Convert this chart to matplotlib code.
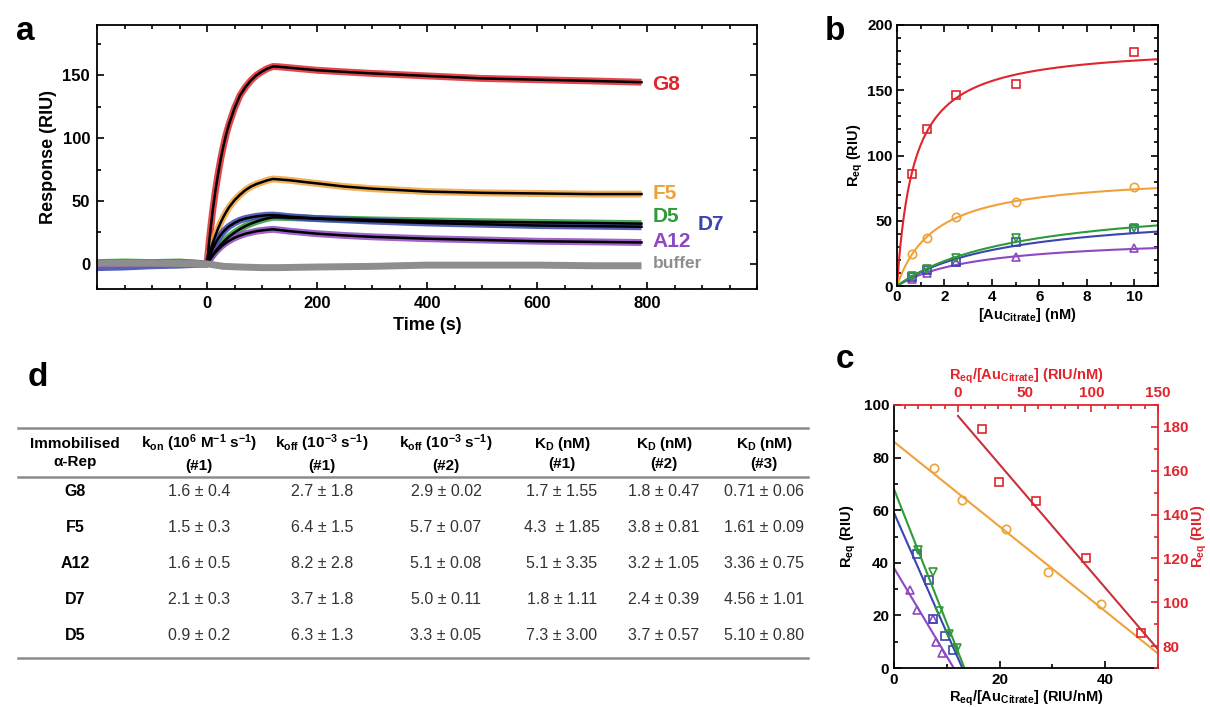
import numpy as np
import matplotlib
matplotlib.use('Agg')
import matplotlib.pyplot as plt
from matplotlib.ticker import MultipleLocator
from matplotlib.lines import Line2D

plt.rcParams['font.family'] = ['Liberation Sans', 'DejaVu Sans']
plt.rcParams['font.weight'] = 'bold'
plt.rcParams['mathtext.fontset'] = 'custom'
plt.rcParams['mathtext.rm'] = 'Liberation Sans:bold'
plt.rcParams['mathtext.default'] = 'rm'

RED = '#e0252d'
DARKRED = '#c8303c'
ORANGE = '#f0a23a'
GREEN = '#2e9a3a'
BLUE = '#3a45b0'
PURPLE = '#8e48c2'
GRAY = '#8e8e8e'

# --- panel a: sensorgrams ---
t_base = [-200, -150, -100, -50, 0]
t_fit = [0, 5, 10, 15, 20, 25, 30, 35, 40, 50, 60, 70, 80, 90, 100, 110, 120, 130,
         150, 175, 200, 250, 300, 400, 500, 600, 700, 790]
g8_fit = [0, 21.9, 41, 57.2, 71, 83.6, 94, 103.3, 111, 123.9, 134, 140.7, 146, 150.1, 153,
          155.4, 157, 156.8, 156, 155, 154, 152.7, 151.5, 149.5, 147.5, 146.5, 145.5, 144.5]
f5_fit = [0, 8.3, 16, 22.2, 28, 33, 37.5, 41.4, 45, 50.6, 55, 58.7, 61.5, 63.5, 65,
          66.5, 67.5, 67.2, 66.5, 65.2, 64, 61.5, 59.8, 57.5, 56.5, 56, 55.5, 55.5]
d5_fit = [0, 3.6, 7, 10, 12.7, 15.2, 17.5, 19.6, 21.6, 24.9, 27.7, 30.1, 32, 33.7, 35,
          36.2, 37, 37, 36.8, 36.4, 36, 35.5, 35, 34.2, 33.5, 33, 32.5, 32]
d7_fit = [0, 6.4, 11.7, 16.1, 20, 23, 25.7, 27.9, 29.8, 32.6, 34.7, 36.1, 37, 37.8, 38.3,
          38.7, 38.8, 38.5, 37.5, 36.8, 36, 35, 34, 32.5, 31.5, 30.5, 30, 29.5]
a12_fit = [0, 3.4, 6.4, 9.1, 11.4, 13.5, 15.3, 16.9, 18.3, 20.7, 22.5, 24, 25, 26, 26.6,
           27.1, 27.5, 27, 26, 25, 24, 22.6, 21.5, 20, 19, 18, 17.5, 17]
g8_base = [0.5, 1, 0.5, 1, 0]
f5_base = [0.5, 1, 0.5, 1, 0]
d5_base = [1, 1.5, 1, 1.5, 0]
d7_base = [-3, -2.5, -1.5, -1, 0]
a12_base = [-1, 0, 0.5, 0, 0]
t_buffer = [-200, -100, 0, 30, 60, 100, 130, 200, 300, 400, 500, 600, 700, 790]
buffer_vals = [0.5, 0.5, 0, -2, -2.5, -3, -3, -2.5, -2, -1, -1, -1, -1.5, -1.5]

# --- panels b/c: equilibrium responses ---
names = ['G8', 'F5', 'A12', 'D7', 'D5']
conc = [0.625, 1.25, 2.5, 5, 10]
req_g8 = [86, 120, 146, 155, 179]
req_f5 = [24.5, 36.5, 53, 64, 76]
req_a12 = [5.7, 10, 18.5, 22, 29.5]
req_d7 = [7, 12, 18.5, 33.5, 43.5]
req_d5 = [7.5, 13, 21.5, 36.5, 44.8]
rmax = [185, 86, 38, 59, 68]

# --- panel d: table ---
kon1 = ['1.6 ± 0.4', '1.5 ± 0.3', '1.6 ± 0.5', '2.1 ± 0.3', '0.9 ± 0.2']
koff1 = ['2.7 ± 1.8', '6.4 ± 1.5', '8.2 ± 2.8', '3.7 ± 1.8', '6.3 ± 1.3']
koff2 = ['2.9 ± 0.02', '5.7 ± 0.07', '5.1 ± 0.08', '5.0 ± 0.11', '3.3 ± 0.05']
kd1 = ['1.7 ± 1.55', '4.3  ± 1.85', '5.1 ± 3.35', '1.8 ± 1.11', '7.3 ± 3.00']
kd2 = ['1.8 ± 0.47', '3.8 ± 0.81', '3.2 ± 1.05', '2.4 ± 0.39', '3.7 ± 0.57']
kd3 = ['0.71 ± 0.06', '1.61 ± 0.09', '3.36 ± 0.75', '4.56 ± 1.01', '5.10 ± 0.80']
kd3_vals = [0.71, 1.61, 3.36, 4.56, 5.10]

W, H = 1210, 707
fig = plt.figure(figsize=(W / 100, H / 100), dpi=100)


def rect(l, t, r, b):
    return [l / W, 1 - b / H, (r - l) / W, (b - t) / H]


def style(ax, labelsize=11.5):
    ax.tick_params(which='both', direction='in', top=True, right=True, width=1.2,
                   labelsize=labelsize)
    ax.tick_params(which='major', length=5, pad=5)
    ax.tick_params(which='minor', length=3)
    for s in ax.spines.values():
        s.set_linewidth(1.3)


# panel a
ax = fig.add_axes(rect(97, 25, 757, 289))
series = [(g8_base, g8_fit, RED), (f5_base, f5_fit, ORANGE), (d5_base, d5_fit, GREEN),
          (d7_base, d7_fit, BLUE), (a12_base, a12_fit, PURPLE)]
for base, fit, col in series:
    ax.plot(t_base + t_fit[1:], base + fit[1:], color=col, lw=5, alpha=0.85,
            solid_capstyle='butt')
for base, fit, col in series:
    ax.plot(t_fit, fit, color='black', lw=1.8)
ax.plot(t_buffer, buffer_vals, color=GRAY, lw=5, solid_capstyle='butt')
ax.set_xlim(-200, 1000)
ax.set_ylim(-20, 190)
ax.set_xticks([0, 200, 400, 600, 800])
ax.xaxis.set_minor_locator(MultipleLocator(50))
ax.set_yticks([0, 50, 100, 150])
ax.yaxis.set_minor_locator(MultipleLocator(25))
style(ax, 12)
ax.set_xlabel('Time (s)', fontsize=13, fontweight='bold', labelpad=4)
ax.set_ylabel('Response (RIU)', fontsize=13, fontweight='bold', labelpad=4)
labels_a = [('G8', 810, 143, RED, 15), ('F5', 810, 56, ORANGE, 15), ('D5', 810, 38, GREEN, 15),
            ('D7', 892, 31, BLUE, 15), ('A12', 810, 18, PURPLE, 15), ('buffer', 810, 0, GRAY, 12.5)]
for txt, x, y, col, fs in labels_a:
    ax.text(x, y, txt, color=col, fontsize=fs, fontweight='bold', ha='left', va='center')

# panel b
bx = fig.add_axes(rect(897, 25, 1158, 286))
req_all = [req_g8, req_f5, req_a12, req_d7, req_d5]
cols = [RED, ORANGE, PURPLE, BLUE, GREEN]
marks = ['s', 'o', '^', 's', 'v']
cgrid = np.linspace(0, 11, 300)
for req, col, mk, rm, kd in zip(req_all, cols, marks, rmax, kd3_vals):
    bx.plot(cgrid, rm * cgrid / (kd + cgrid), color=col, lw=1.5)
    bx.plot(conc, req, mk, color=col, mfc='none', ms=6, mew=1.2)
bx.set_xlim(0, 11)
bx.set_ylim(0, 200)
bx.set_xticks([0, 2, 4, 6, 8, 10])
bx.xaxis.set_minor_locator(MultipleLocator(1))
bx.set_yticks([0, 50, 100, 150, 200])
bx.yaxis.set_minor_locator(MultipleLocator(10))
style(bx, 11)
bx.tick_params(which='major', pad=3)
bx.set_xlabel('[Au$_{Citrate}$] (nM)', fontsize=10.5, fontweight='bold', labelpad=1)
bx.set_ylabel('R$_{eq}$ (RIU)', fontsize=10.5, fontweight='bold', labelpad=2)

# panel c: Scatchard
crect = rect(894, 405, 1158, 668)
cx = fig.add_axes(crect)
for req, col, mk, rm, kd, nm in zip(req_all, cols, marks, rmax, kd3_vals, names):
    if nm == 'G8':
        continue
    ratio = np.array(req) / np.array(conc)
    xend = min(rm / kd, 50)
    cx.plot([0, xend], [rm, rm - kd * xend], color=col, lw=1.5)
    cx.plot(ratio, req, mk, color=col, mfc='none', ms=6, mew=1.2)
cx.set_xlim(0, 50)
cx.set_ylim(0, 100)
cx.set_xticks([0, 20, 40])
cx.xaxis.set_minor_locator(MultipleLocator(10))
cx.set_yticks([0, 20, 40, 60, 80, 100])
cx.yaxis.set_minor_locator(MultipleLocator(10))
cx.tick_params(which='both', direction='in', width=1.2, labelsize=11)
cx.tick_params(which='major', length=5)
cx.tick_params(which='minor', length=3)
cx.spines['top'].set_visible(False)
cx.spines['right'].set_visible(False)
for s in ('left', 'bottom'):
    cx.spines[s].set_linewidth(1.3)
cx.set_xlabel('R$_{eq}$/[Au$_{Citrate}$] (RIU/nM)', fontsize=10.5, fontweight='bold', labelpad=1)
cx.set_ylabel('R$_{eq}$ (RIU)', fontsize=10.5, fontweight='bold', labelpad=4)

rx = fig.add_axes(crect, frameon=True)
rx.patch.set_visible(False)
ratio_g8 = np.array(req_g8) / np.array(conc)
rx.plot([0, 150], [rmax[0], rmax[0] - kd3_vals[0] * 150], color=DARKRED, lw=1.5)
rx.plot(ratio_g8, req_g8, 's', color=RED, mfc='none', ms=6, mew=1.2)
rx.set_xlim(-48, 150)
rx.set_ylim(70, 190)
rx.xaxis.tick_top()
rx.xaxis.set_label_position('top')
rx.yaxis.tick_right()
rx.yaxis.set_label_position('right')
rx.set_xticks([0, 50, 100, 150])
rx.xaxis.set_minor_locator(MultipleLocator(10))
rx.set_yticks([80, 100, 120, 140, 160, 180])
rx.yaxis.set_minor_locator(MultipleLocator(10))
rx.tick_params(which='both', direction='in', width=1.2, labelsize=11, colors=RED)
rx.tick_params(which='major', length=5)
rx.tick_params(which='minor', length=3)
rx.spines['left'].set_visible(False)
rx.spines['bottom'].set_visible(False)
for s in ('top', 'right'):
    rx.spines[s].set_color(RED)
    rx.spines[s].set_linewidth(1.3)
rx.set_xlabel('R$_{eq}$/[Au$_{Citrate}$] (RIU/nM)', fontsize=10.5, fontweight='bold',
              color=RED, labelpad=5)
rx.set_ylabel('R$_{eq}$ (RIU)', fontsize=10.5, fontweight='bold', color=RED, labelpad=1)

# panel letters
for letter, x, y in [('a', 25, 32), ('b', 835, 32), ('c', 845, 360), ('d', 38, 378)]:
    fig.text(x / W, 1 - y / H, letter, fontsize=24, fontweight='bold', ha='center', va='center')

# panel d: table
narrow = ['Liberation Sans Narrow', 'Liberation Sans', 'DejaVu Sans']
col_x = [75, 199, 322, 446, 562, 664, 764]
headers = ['Immobilised\nα-Rep',
           'k$_{on}$ (10$^{6}$ M$^{-1}$ s$^{-1}$)\n(#1)',
           'k$_{off}$ (10$^{-3}$ s$^{-1}$)\n(#1)',
           'k$_{off}$ (10$^{-3}$ s$^{-1}$)\n(#2)',
           'K$_{D}$ (nM)\n(#1)',
           'K$_{D}$ (nM)\n(#2)',
           'K$_{D}$ (nM)\n(#3)']
for x, h in zip(col_x, headers):
    fig.text(x / W, 1 - 453 / H, h, family=narrow, fontsize=11, fontweight='bold',
             ha='center', va='center', multialignment='center', linespacing=1.45)
row_y = [492, 527, 563, 599, 636]
row_names = ['G8', 'F5', 'A12', 'D7', 'D5']
columns = [kon1, koff1, koff2, kd1, kd2, kd3]
for i, (y, nm) in enumerate(zip(row_y, row_names)):
    fig.text(col_x[0] / W, 1 - y / H, nm, family=narrow, fontsize=11.5, fontweight='bold',
             ha='center', va='center')
    for x, colvals in zip(col_x[1:], columns):
        fig.text(x / W, 1 - y / H, colvals[i], family=narrow, fontsize=11.5,
                 fontweight='normal', ha='center', va='center', color='#333333')
for y in (428, 477, 658):
    fig.add_artist(Line2D([18 / W, 808 / W], [1 - y / H] * 2, color='#8c8c8c', lw=1.8))

fig.savefig('out.png', dpi=100)
